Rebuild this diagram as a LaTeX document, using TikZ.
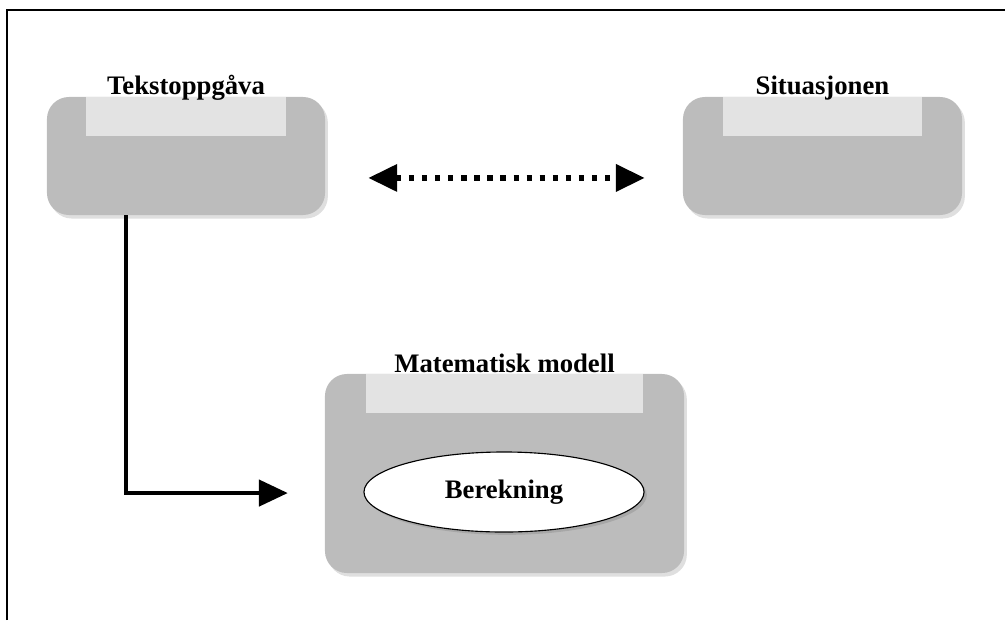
\documentclass[tikz,border=0pt]{standalone}
\usepackage{fontspec}
\setmainfont{Liberation Serif}
\usetikzlibrary{shapes.geometric,shadows,arrows.meta}
\definecolor{boxgray}{RGB}{188,188,188}
\definecolor{stripgray}{RGB}{227,227,227}

\begin{document}
\begin{tikzpicture}[x=0.025cm, y=-0.025cm,
    box/.style={fill=boxgray, rounded corners=0.55cm, inner sep=0pt,
      drop shadow={opacity=0.25, shadow xshift=2pt, shadow yshift=-2.5pt}},
    strip/.style={fill=stripgray, anchor=north, inner sep=0pt, minimum height=0.975cm},
    lbl/.style={font=\fontsize{19}{22}\selectfont\bfseries, anchor=base, inner sep=0pt},
    bigtip/.style={-{Triangle[length=0.72cm,width=0.66cm]}}]
    \useasboundingbox (0,0) rectangle (1005,620);
    \draw[line width=1.4pt] (7,620) -- (7,10) -- (1005,10);
    \node[box, minimum width=6.95cm, minimum height=2.95cm] (a) at (186,156) {};
    \node[box, minimum width=6.975cm, minimum height=2.95cm] (b) at (822.5,156) {};
    \node[box, minimum width=8.975cm, minimum height=4.975cm] (c) at (504.5,473.5) {};
    \node[strip, minimum width=4.975cm] (a1) at (a.north) {};
    \node[strip, minimum width=4.975cm] (b1) at (b.north) {};
    \node[strip, minimum width=6.925cm] (c1) at (c.north) {};
    \node[lbl] (a2) at ([yshift=1.5pt]a.north) {Tekstoppgåva};
    \node[lbl] (b2) at ([yshift=1.5pt]b.north) {Situasjonen};
    \node[lbl] (c2) at ([yshift=1pt]c.north) {Matematisk modell};
    \node[ellipse, draw, line width=0.8pt, fill=white, minimum width=7cm, minimum height=2cm,
      inner sep=0pt, font=\fontsize{19}{22}\selectfont\bfseries,
      drop shadow={opacity=0.35, shadow xshift=2pt, shadow yshift=-2pt}] (d) at (504,492) {\raisebox{3pt}{Berekning}};
    \draw[line width=3.8pt, dash pattern=on 3.8pt off 5.5pt,
      {Triangle[length=0.72cm,width=0.66cm]}-{Triangle[length=0.72cm,width=0.66cm]},
      shorten <=30.6pt, shorten >=27pt] ([yshift=-15.6pt]a.east) -- ([yshift=-15.6pt]b.west);
    \draw[bigtip, line width=2.3pt, shorten >=26.3pt]
      ([xshift=-42.7pt]a.south) |- ([yshift=-13.9pt]c.west);
  \end{tikzpicture}
\end{document}
